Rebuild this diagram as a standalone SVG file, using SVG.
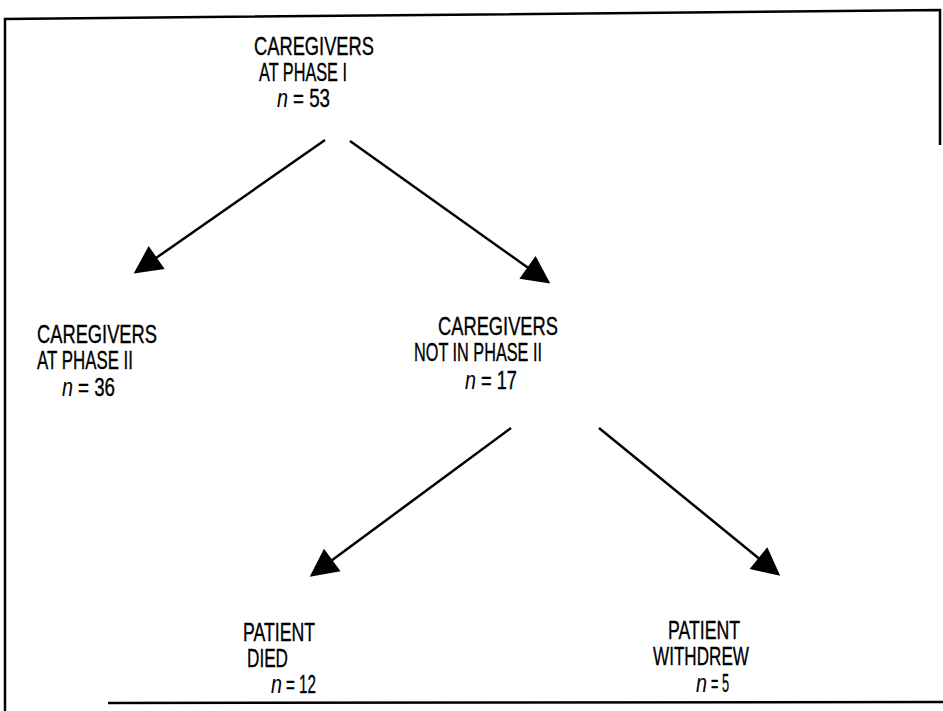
<svg xmlns="http://www.w3.org/2000/svg" width="943" height="711" viewBox="0 0 943 711">
  <defs>
    <style>
      .lbl { font-family: "Liberation Sans", Arial, sans-serif; font-size: 25px; fill: #000; stroke: #000; stroke-width: 0.35; }
      .it { font-style: italic; stroke-width: 0.1; }
      .frame { fill: none; stroke: #000; stroke-width: 2.5; }
      .edge { fill: none; stroke: #000; stroke-width: 2.5; }
    </style>
    <marker id="head" viewBox="0 0 10 10" refX="9" refY="5" markerWidth="34" markerHeight="28" markerUnits="userSpaceOnUse" orient="auto" overflow="visible">
      <path d="M0,0 L10,5 L0,10 Z" fill="#000"/>
    </marker>
  </defs>
  <rect width="943" height="711" fill="#fff"/>

  <!-- outer frame -->
  <g id="frame">
    <polyline class="frame" points="5,711 5,19 940,10 940,145"/>
    <line class="frame" x1="108" y1="703" x2="943" y2="702"/>
  </g>

  <!-- connectors -->
  <g id="connectors">
    <line class="edge" x1="325" y1="140" x2="136" y2="272" marker-end="url(#head)"/>
    <line class="edge" x1="350" y1="141" x2="548" y2="282" marker-end="url(#head)"/>
    <line class="edge" x1="511" y1="428" x2="312" y2="575" marker-end="url(#head)"/>
    <line class="edge" x1="599" y1="428" x2="778" y2="574" marker-end="url(#head)"/>
  </g>

  <g id="phase1">
    <text class="lbl" x="254" y="55" textLength="120" lengthAdjust="spacingAndGlyphs">CAREGIVERS</text>
    <text class="lbl" x="259" y="81" textLength="88" lengthAdjust="spacingAndGlyphs">AT PHASE I</text>
    <text class="lbl it" x="277" y="107" textLength="11" lengthAdjust="spacingAndGlyphs">n</text>
    <text class="lbl" x="293" y="107" textLength="37" lengthAdjust="spacingAndGlyphs">= 53</text>
  </g>

  <g id="phase2">
    <text class="lbl" x="37" y="343" textLength="120" lengthAdjust="spacingAndGlyphs">CAREGIVERS</text>
    <text class="lbl" x="37" y="369" textLength="96" lengthAdjust="spacingAndGlyphs">AT PHASE II</text>
    <text class="lbl it" x="62" y="396" textLength="11" lengthAdjust="spacingAndGlyphs">n</text>
    <text class="lbl" x="78" y="396" textLength="37" lengthAdjust="spacingAndGlyphs">= 36</text>
  </g>

  <g id="not-phase2">
    <text class="lbl" x="438" y="335" textLength="120" lengthAdjust="spacingAndGlyphs">CAREGIVERS</text>
    <text class="lbl" x="414" y="361" textLength="128" lengthAdjust="spacingAndGlyphs">NOT IN PHASE II</text>
    <text class="lbl it" x="465" y="389" textLength="11" lengthAdjust="spacingAndGlyphs">n</text>
    <text class="lbl" x="481" y="389" textLength="36" lengthAdjust="spacingAndGlyphs">= 17</text>
  </g>

  <g id="died">
    <text class="lbl" x="243" y="641" textLength="72" lengthAdjust="spacingAndGlyphs">PATIENT</text>
    <text class="lbl" x="247" y="667" textLength="41" lengthAdjust="spacingAndGlyphs">DIED</text>
    <text class="lbl it" x="271" y="693" textLength="11" lengthAdjust="spacingAndGlyphs">n</text>
    <text class="lbl" x="286" y="693" textLength="30" lengthAdjust="spacingAndGlyphs">= 12</text>
  </g>

  <g id="withdrew">
    <text class="lbl" x="668" y="639" textLength="72" lengthAdjust="spacingAndGlyphs">PATIENT</text>
    <text class="lbl" x="653" y="665" textLength="96" lengthAdjust="spacingAndGlyphs">WITHDREW</text>
    <text class="lbl it" x="696" y="692" textLength="11" lengthAdjust="spacingAndGlyphs">n</text>
    <text class="lbl" x="711" y="692" textLength="18" lengthAdjust="spacingAndGlyphs">= 5</text>
  </g>
</svg>
